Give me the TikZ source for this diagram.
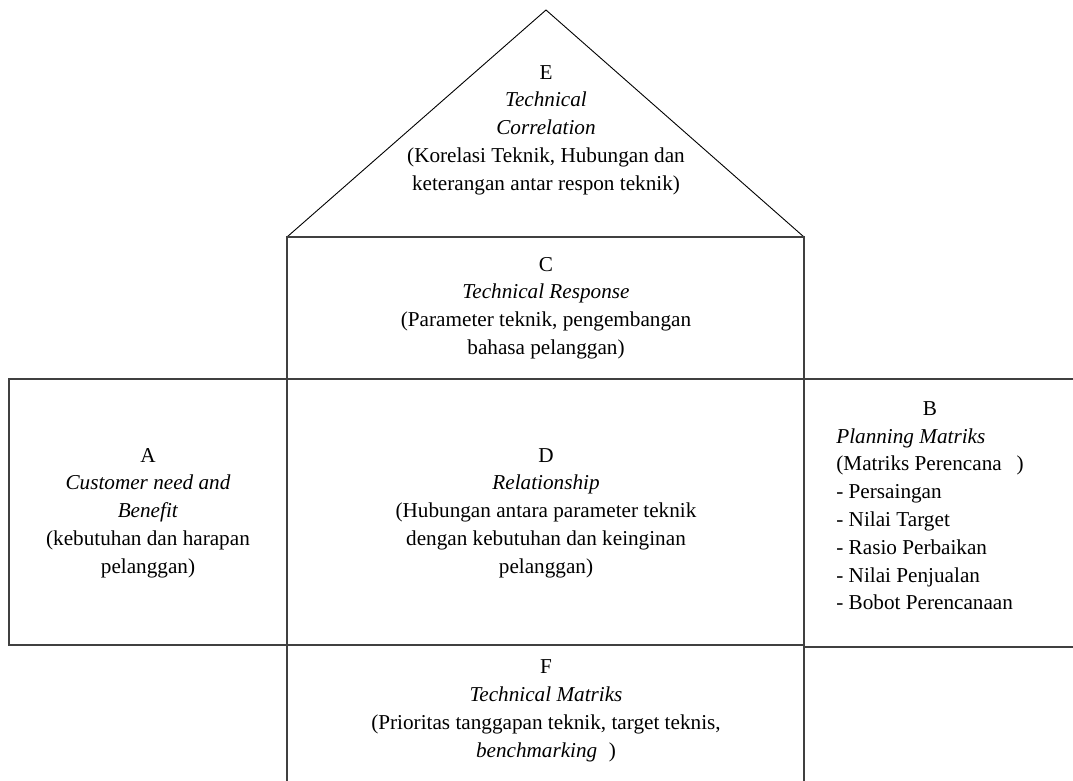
\documentclass[tikz,border=0pt]{standalone}
\usepackage{fontspec}
\setmainfont{Liberation Serif}
\definecolor{wall}{HTML}{404040}
\tikzset{
  frame/.style={draw=wall, line width=0.65pt},
  roof/.style={draw=black, line width=0.45pt},
  % every room holds one centred block of text, no box of its own
  room/.style={align=center, inner sep=0pt, text=black,
               font=\fontsize{10.6}{13.9}\selectfont},
}

\begin{document}
\begin{tikzpicture}[x=0.5pt, y=-0.5pt]
  \useasboundingbox (0,0) rectangle (1073,781);

  % corners of the house, in pixels of the page (y runs downwards)
  \coordinate (apex)   at (546,10);
  \coordinate (eaveL)  at (287,237);
  \coordinate (eaveR)  at (804,237);
  \coordinate (floorL) at (287,379);
  \coordinate (floorR) at (804,379);
  \coordinate (baseL)  at (287,645);
  \coordinate (baseR)  at (804,645);

  % --- walls -----------------------------------------------------------------
  \draw[roof] (eaveL) -- (apex) -- (eaveR);
  \draw[frame] (eaveL) rectangle (floorR);
  \draw[frame] (9,379) rectangle (baseL);
  \draw[frame] (floorL) rectangle (baseR);
  \draw[frame] (1073,379) -- (floorR) -- (804,647) -- (1073,647);
  \draw[frame] (287,781) -- (baseL) -- (baseR) -- (804,781);

  % --- texts -----------------------------------------------------------------
  \node[room] (roomE) at (546,130) {E\\ \textit{Technical}\\ \textit{Correlation}\\
    (Korelasi Teknik, Hubungan dan\\ keterangan antar respon teknik)};
  \node[room] (roomC) at (546,308) {C\\ \textit{Technical Response}\\
    (Parameter teknik, pengembangan\\ bahasa pelanggan)};
  \node[room] (roomA) at (148,513) {A\\ \textit{Customer need and}\\ \textit{Benefit}\\
    (kebutuhan dan harapan\\ pelanggan)};
  \node[room] (roomD) at (546,513) {D\\ \textit{Relationship}\\
    (Hubungan antara parameter teknik\\ dengan kebutuhan dan keinginan\\ pelanggan)};
  \node[room] (roomB) at (930,507) {\begin{tabular}{@{}l@{}}
      \multicolumn{1}{c}{B}\\
      \textit{Planning Matriks}\\
      (Matriks Perencana\hspace{0.7em})\\
      - Persaingan\\
      - Nilai Target\\
      - Rasio Perbaikan\\
      - Nilai Penjualan\\
      - Bobot Perencanaan
    \end{tabular}};
  \node[room] (roomF) at (546,711) {F\\ \textit{Technical Matriks}\\
    (Prioritas tanggapan teknik, target teknis,\\ \textit{benchmarking}\hspace{0.55em})};

\end{tikzpicture}
\end{document}
